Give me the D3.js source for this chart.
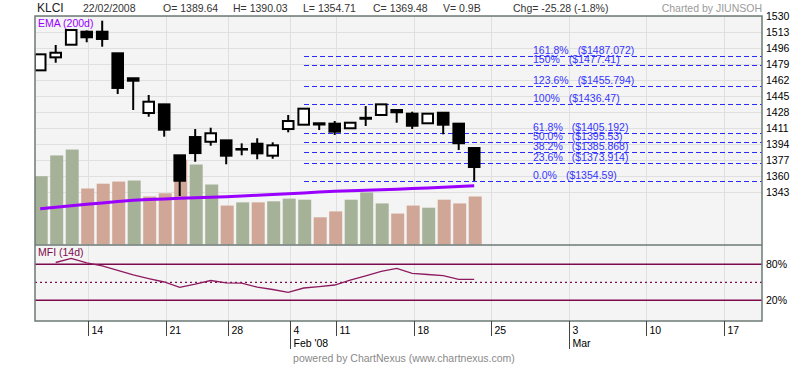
<!DOCTYPE html>
<html><head><meta charset="utf-8">
<script src="https://cdn.jsdelivr.net/npm/d3@7"></script>
<style>
body{margin:0;background:#fff}
svg{display:block;font-family:"Liberation Sans",Arial,sans-serif}
</style>
</head><body>
<svg id="c" width="800" height="366"></svg>
<script>
// ---------------- DATA ----------------
const dates = ["2008-01-09","2008-01-10","2008-01-11","2008-01-14","2008-01-15","2008-01-16","2008-01-17","2008-01-18",
  "2008-01-21","2008-01-22","2008-01-24","2008-01-25","2008-01-28","2008-01-29","2008-01-30","2008-01-31",
  "2008-02-04","2008-02-05","2008-02-06","2008-02-11","2008-02-12","2008-02-13","2008-02-14","2008-02-15",
  "2008-02-18","2008-02-19","2008-02-20","2008-02-21","2008-02-22"];
const futureDates = ["2008-02-25","2008-02-26","2008-02-27","2008-02-28","2008-02-29","2008-03-03","2008-03-04","2008-03-05",
  "2008-03-06","2008-03-07","2008-03-10","2008-03-11","2008-03-12","2008-03-13","2008-03-14","2008-03-17","2008-03-18","2008-03-19"];
const opens  = [1472.1,1485.9,1499.3,1513.1,1513.1,1490.2,1463.7,1426.8,1436.0,1381.9,1401.3,1396.3,1397.8,1388.0,1394.2,1381.5,
  1409.8,1414.4,1414.6,1415.5,1410.6,1421.7,1424.7,1430.0,1426.1,1415.9,1427.1,1415.5,1389.64];
const highs  = [1489.5,1499.0,1516.0,1514.5,1524.8,1490.5,1464.0,1445.9,1436.5,1382.2,1409.8,1411.2,1398.0,1394.6,1400.0,1395.7,
  1424.7,1431.7,1416.2,1418.3,1417.0,1434.2,1436.3,1430.3,1428.2,1426.4,1427.4,1416.0,1390.03];
const lows   = [1471.5,1480.2,1499.0,1501.9,1497.2,1447.0,1430.0,1422.9,1401.7,1338.7,1375.1,1392.1,1372.4,1381.9,1377.7,1378.3,
  1406.3,1414.1,1408.8,1403.5,1410.3,1413.0,1424.5,1416.5,1409.8,1415.6,1404.2,1387.5,1354.71];
const closes = [1489.1,1490.8,1514.9,1507.2,1505.4,1453.4,1461.1,1438.8,1409.1,1354.9,1384.3,1405.3,1381.5,1388.6,1384.0,1392.5,
  1418.3,1431.4,1415.9,1407.0,1416.5,1420.7,1436.0,1427.6,1413.3,1426.1,1414.4,1394.76,1369.48];
const volumes = [1.28,1.67,1.78,1.05,1.14,1.18,1.2,0.9,0.96,1.59,1.5,1.125,0.73,0.79,0.79,0.81,
  0.86,0.84,0.51,0.62,0.84,0.975,0.77,0.58,0.73,0.69,0.84,0.77,0.9];
const ema200 = [1325.1,1326.7,1328.3,1329.9,1331.3,1332.8,1334.2,1334.9,1335.6,1336.3,1336.9,1337.4,1338.0,1338.7,1339.5,1340.2,
  1341.1,1342.0,1342.9,1343.8,1344.3,1344.8,1345.4,1345.9,1346.6,1347.3,1348.0,1348.8,1349.5];
const mfi14 = [null,83.0,89.7,82.2,77.2,69.7,62.2,56.3,50.5,41.7,47.0,53.0,49.2,48.5,42.0,38.0,
  33.3,40.5,42.8,45.5,53.8,60.8,68.3,73.3,65.0,63.0,61.0,55.0,55.0];
const priceTicks = [1530,1513,1496,1479,1462,1445,1428,1411,1394,1377,1360,1343];
const mfiLines = [80,20];
const mfiMid = 50;
const fibNames = ["161.8%","150%","123.6%","100%","61.8%","50.0%","38.2%","23.6%","0.0%"];
const fibValues = [1487.072,1477.41,1455.794,1436.47,1405.192,1395.53,1385.868,1373.914,1354.59];
const fibValueLabels = ["($1487.072)","($1477.41)","($1455.794)","($1436.47)","($1405.192)","($1395.53)","($1385.868)","($1373.914)","($1354.59)"];
const fibStart = "2008-02-05";
const weekTickDates = ["2008-01-14","2008-01-21","2008-01-28","2008-02-04","2008-02-11","2008-02-18","2008-02-25","2008-03-03","2008-03-10","2008-03-17"];
const weekTickLabels = ["14","21","28","4","11","18","25","3","10","17"];
const monthTickDates = ["2008-02-04","2008-03-03"];
const monthTickLabels = ["Feb '08","Mar"];
const headerItems = ["22/02/2008","O= 1389.64","H= 1390.03","L= 1354.71","C= 1369.48","V= 0.9B","Chg= -25.28 (-1.8%)"];

// ---------------- LAYOUT ----------------
const L = 35, R = 762, T = 16, MB = 245, FB = 321;
const svg = d3.select("#c");
const allDates = dates.concat(futureDates);
const x = d3.scalePoint().domain(allDates).range([40.2, 40.2 + 15.5 * (allDates.length - 1)]);
const y = d3.scaleLinear().domain([1286.7, 1530]).range([MB, 15.8]);
const vy = d3.scaleLinear().domain([0, 4.275]).range([244.5, 16.5]);
const my = d3.scaleLinear().domain([20, 80]).range([300.3, 264.3]);
const gx = d => x(d) + 1.5;

const defs = svg.append("defs");
defs.append("clipPath").attr("id","cm").append("rect").attr("x",L).attr("y",T).attr("width",R-L).attr("height",MB-T);
defs.append("clipPath").attr("id","cf").append("rect").attr("x",L).attr("y",MB).attr("width",R-L).attr("height",FB-MB);

// panels bg
svg.append("rect").attr("x",L).attr("y",T).attr("width",R-L).attr("height",MB-T).attr("fill","#f4f4f4");
svg.append("rect").attr("x",L).attr("y",MB).attr("width",R-L).attr("height",FB-MB).attr("fill","#f4f4f4");

// grid
const grid = svg.append("g").attr("stroke","#e0e0e0").attr("stroke-width",1);
grid.selectAll("line.h").data(priceTicks).join("line")
  .attr("x1",L).attr("x2",R).attr("y1",d=>Math.round(y(d))+0.5).attr("y2",d=>Math.round(y(d))+0.5);
grid.selectAll("line.v").data(weekTickDates).join("line")
  .attr("x1",d=>Math.round(gx(d))+0.5).attr("x2",d=>Math.round(gx(d))+0.5).attr("y1",T).attr("y2",FB);

// main panel content
const main = svg.append("g").attr("clip-path","url(#cm)");
const bars = dates.map((d,i)=>({d, v:volumes[i], up: i===0 ? closes[i]>=opens[i] : closes[i]>=closes[i-1]}));
main.selectAll("rect.vol").data(bars).join("rect")
  .attr("x",b=>x(b.d)-5.5).attr("width",13)
  .attr("y",b=>vy(b.v)).attr("height",b=>vy(0)-vy(b.v))
  .attr("fill",b=>b.up?"#a6b298":"#d0a696");

main.append("path").datum(dates.map((d,i)=>[d,ema200[i]]))
  .attr("fill","none").attr("stroke","#9a00ff").attr("stroke-width",3)
  .attr("d", d3.line().x(p=>x(p[0])).y(p=>y(p[1])));

// fib lines
const fib = main.append("g");
fib.selectAll("line").data(fibValues).join("line")
  .attr("x1",x(fibStart)).attr("x2",R)
  .attr("y1",v=>Math.round(y(v))+0.5).attr("y2",v=>Math.round(y(v))+0.5)
  .attr("stroke","#2b2bff").attr("stroke-width",1).attr("shape-rendering","crispEdges")
  .attr("stroke-dasharray","5,3");

// candles
const cg = main.append("g");
dates.forEach((d,i)=>{
  const cx = x(d);
  cg.append("line").attr("x1",cx).attr("x2",cx).attr("y1",y(highs[i])).attr("y2",y(lows[i]))
    .attr("stroke","#000").attr("stroke-width",2);
  const up = closes[i] >= opens[i];
  const yt = y(Math.max(opens[i],closes[i])), yb = y(Math.min(opens[i],closes[i]));
  cg.append("rect").attr("x",cx-5.3).attr("width",10.6).attr("y",yt).attr("height",Math.max(0.3,yb-yt))
    .attr("fill",up?"#fff":"#000").attr("stroke","#000").attr("stroke-width",2);
});

// fib labels
const fl = svg.append("g").attr("font-size","10.5px").attr("fill","#3434ff");
fibValues.forEach((v,i)=>{
  const t = fl.append("text").attr("x",533).attr("y",y(v)-2);
  t.append("tspan").text(fibNames[i]);
  t.append("tspan").attr("dx",9).text(fibValueLabels[i]);
});

svg.append("text").attr("x",38).attr("y",27).attr("font-size","10.5px").attr("fill","#9a00ff").text("EMA (200d)");

// MFI panel
const mf = svg.append("g").attr("clip-path","url(#cf)");
mf.selectAll("line.lv").data(mfiLines).join("line")
  .attr("x1",L).attr("x2",R).attr("y1",v=>my(v)).attr("y2",v=>my(v))
  .attr("stroke","#7d0a4c").attr("stroke-width",1.5);
mf.append("line").attr("x1",L).attr("x2",R).attr("y1",my(mfiMid)).attr("y2",my(mfiMid))
  .attr("stroke","#7d0a4c").attr("stroke-width",1.2).attr("stroke-dasharray","2,3");
mf.append("path").datum(dates.map((d,i)=>[d,mfi14[i]]))
  .attr("fill","none").attr("stroke","#8e1a60").attr("stroke-width",1.3)
  .attr("d", d3.line().defined(p=>p[1]!==null).x(p=>x(p[0])).y(p=>my(p[1])));
svg.append("text").attr("x",38).attr("y",256).attr("font-size","10.5px").attr("fill","#7d0a4c").text("MFI (14d)");

// borders
svg.append("rect").attr("x",L).attr("y",T).attr("width",R-L).attr("height",FB-T)
  .attr("fill","none").attr("stroke","#6c7a74").attr("stroke-width",1.5);
svg.append("line").attr("x1",L).attr("x2",R).attr("y1",MB).attr("y2",MB).attr("stroke","#6c7a74").attr("stroke-width",1.5);

// right axis
const ra = svg.append("g").attr("transform",`translate(${R},0)`);
ra.call(d3.axisRight(y).tickValues(priceTicks).tickSize(0).tickPadding(4).tickFormat(d3.format("d")));
ra.select(".domain").remove();
ra.selectAll("text").attr("font-family","Liberation Sans, Arial, sans-serif").attr("font-size","10.5px").attr("fill","#000");
const rm = svg.append("g").attr("transform",`translate(${R},0)`);
rm.call(d3.axisRight(my).tickValues(mfiLines).tickSize(0).tickPadding(4).tickFormat(d=>d+"%"));
rm.select(".domain").remove();
rm.selectAll("text").attr("font-family","Liberation Sans, Arial, sans-serif").attr("font-size","10.5px").attr("fill","#000");

// bottom axis
const bx = svg.append("g");
bx.selectAll("line.wt").data(weekTickDates).join("line")
  .attr("x1",d=>Math.round(gx(d))+0.5).attr("x2",d=>Math.round(gx(d))+0.5).attr("y1",FB).attr("y2",336)
  .attr("stroke","#444").attr("stroke-width",1);
bx.selectAll("text.wl").data(weekTickDates).join("text")
  .attr("x",d=>Math.round(gx(d))+3.5).attr("y",334).attr("font-size","10.5px").attr("fill","#000")
  .text((d,i)=>weekTickLabels[i]);
bx.selectAll("line.mt").data(monthTickDates).join("line")
  .attr("x1",d=>Math.round(gx(d))+0.5).attr("x2",d=>Math.round(gx(d))+0.5).attr("y1",FB).attr("y2",349)
  .attr("stroke","#444").attr("stroke-width",1);
bx.selectAll("text.ml").data(monthTickDates).join("text")
  .attr("x",d=>Math.round(gx(d))+3.5).attr("y",347).attr("font-size","10.5px").attr("fill","#000")
  .text((d,i)=>monthTickLabels[i]);

// header
svg.append("text").attr("x",37).attr("y",12).attr("font-size","12px").attr("fill","#222").text("KLCI");
const hx = [83,163,233,303,373,443,513];
svg.selectAll("text.hd").data(headerItems).join("text")
  .attr("x",(d,i)=>hx[i]).attr("y",12).attr("font-size","10.5px").attr("fill","#333").text(d=>d);
svg.append("text").attr("x",762).attr("y",12).attr("text-anchor","end").attr("font-size","10.5px").attr("fill","#9a9a9a").text("Charted by JIUNSOH");
svg.append("text").attr("x",404).attr("y",362).attr("text-anchor","middle").attr("font-size","10.5px").attr("fill","#8a8a8a")
  .text("powered by ChartNexus (www.chartnexus.com)");
</script>
</body></html>
